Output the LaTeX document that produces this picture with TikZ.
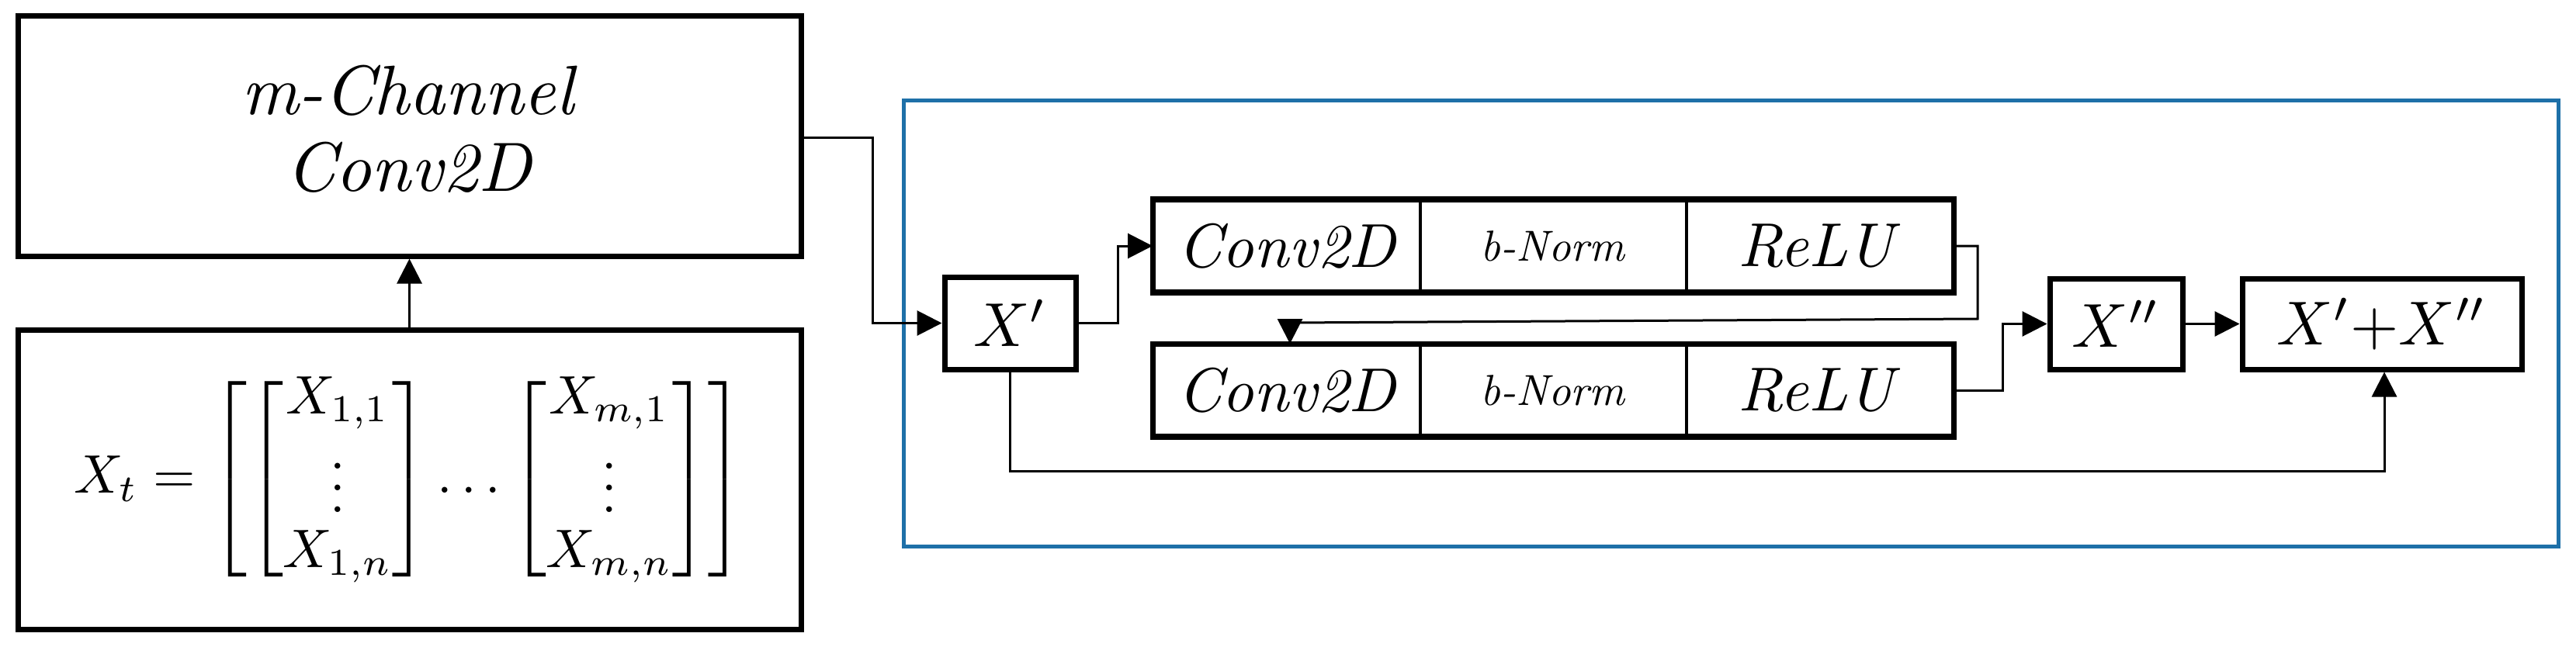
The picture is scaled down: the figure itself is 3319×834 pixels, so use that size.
\documentclass[tikz,border=0pt]{standalone}
\usepackage{amsmath}
\usepackage{graphicx}
\usetikzlibrary{arrows.meta}
\definecolor{bl}{RGB}{30,112,168}
\newcommand{\bg}[1]{\scalebox{9}{#1}}
\newcommand{\md}[1]{\scalebox{8}{#1}}
\newcommand{\sml}[1]{\scalebox{5.6}{#1}}
\begin{document}
\begin{tikzpicture}[x=1pt,y=-1pt,
  box/.style={draw,line width=7pt,inner sep=0pt,fill=white},
  cell/.style={draw,line width=4pt,inner sep=0pt,minimum height=116pt,minimum width=343pt},
  con/.style={line width=3pt,-{Triangle[length=32pt,width=32pt]}}]
\useasboundingbox (0,0) rectangle (3319,834);
\draw[bl,line width=5pt] (1164,130) rectangle (3296,704);
\node[box,minimum width=1009pt,minimum height=309pt] (top) at (527.5,175.5) {\bg{\begin{tabular}{@{}c@{}}\textit{m-Channel}\\[-1pt]\textit{Conv2D}\end{tabular}}};
\node[box,minimum width=1009pt,minimum height=386pt] (bot) at (527.5,618) {\scalebox{7}{\renewcommand{\arraystretch}{0.85}$\displaystyle X_t=\left[\begin{bmatrix}X_{1,1}\\ \vdots\\ X_{1,n}\end{bmatrix}\dots\begin{bmatrix}X_{m,1}\\ \vdots\\ X_{m,n}\end{bmatrix}\right]$}};
\draw[con] (bot.north) -- (top.south);
\node[box,minimum width=169pt,minimum height=119pt] (xp) at (1301.5,416.5) {\md{$X'$}};
\node[cell] (c1) at (1658.5,317) {\md{\textit{Conv2D}}};
\node[cell] (b1) at (2001,317) {\sml{\textit{b-Norm}}};
\node[cell] (r1) at (2344,317) {\md{\textit{ReLU}}};
\draw[line width=7pt] (c1.north west) rectangle (r1.south east);
\node[cell] (c2) at (1658.5,503) {\md{\textit{Conv2D}}};
\node[cell] (b2) at (2001,503) {\sml{\textit{b-Norm}}};
\node[cell] (r2) at (2344,503) {\md{\textit{ReLU}}};
\draw[line width=7pt] (c2.north west) rectangle (r2.south east);
\node[box,minimum width=171pt,minimum height=117pt] (xpp) at (2726.5,417.5) {\md{$X''$}};
\node[box,minimum width=360pt,minimum height=117pt] (sum) at (3069,417.5) {\md{$X'{+}X''$}};
\coordinate (k1) at (1124,178);
\coordinate (k2) at (2548,411);
\coordinate (k3) at (1662,416);
\coordinate (k4) at (3072,607);
\draw[con] (top.east |- k1) -- (k1) |- (xp.west);
\draw[con] (xp.east) -- ++(51,0) |- (c1.west);
\draw[con] (r1.east) -| (k2) -- (k3) -- (k3 |- c2.north);
\draw[con] (r2.east) -- ++(63,0) |- (xpp.west);
\draw[con] (xpp.east) -- (sum.west);
\draw[con] (xp.south) |- (k4) -- (k4 |- sum.south);
\end{tikzpicture}
\end{document}
